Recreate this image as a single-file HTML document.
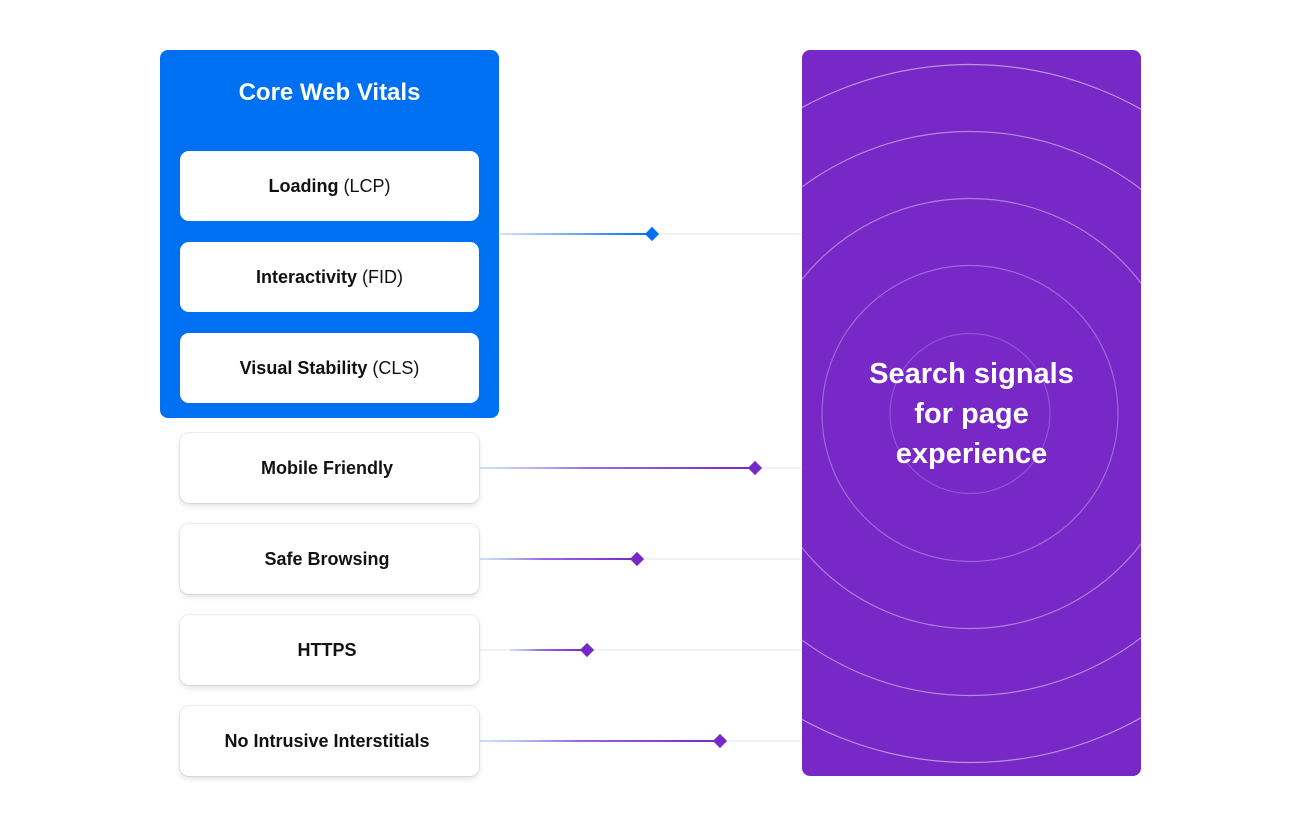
<!DOCTYPE html>
<html><head><meta charset="utf-8"><style>
body{margin:0;width:1300px;height:827px;background:#fff;position:relative;overflow:hidden;font-family:"Liberation Sans",sans-serif}
.abs{position:absolute}
.blue{left:160px;top:50px;width:339px;height:368px;background:#0070f3;border-radius:8px}
.title{left:160px;top:78px;width:339px;text-align:center;color:#fff;font-size:24px;line-height:30px;font-weight:bold}
.box{position:absolute;left:180px;width:299px;height:70px;background:#fff;border-radius:9px;display:flex;align-items:center;justify-content:center;font-size:18px;color:#111}
.box b{font-weight:bold;margin-right:5px}
.sh{box-shadow:0 3px 6px rgba(0,0,0,0.12),0 0 0 1px #eeeef4}
.purple{left:802px;top:50px;width:339px;height:726px;background:#7728c6;border-radius:8px;overflow:hidden}
.big{left:802px;top:354px;width:339px;text-align:center;color:#fff;font-size:29px;font-weight:bold;line-height:40px}
</style></head><body>
<svg class="abs" style="left:0;top:0" width="1300" height="827">
<defs>
<linearGradient id="gb" x1="0" x2="1"><stop offset="0" stop-color="#0070f3" stop-opacity="0.1"/><stop offset="1" stop-color="#0070f3"/></linearGradient>
<linearGradient id="gp" x1="0" x2="1"><stop offset="0" stop-color="#8ab8f8" stop-opacity="0.3"/><stop offset="0.4" stop-color="#9a6ae0"/><stop offset="1" stop-color="#7728c6"/></linearGradient>
</defs>
<g stroke="#eceef3" stroke-width="1.5">
<line x1="499" y1="234" x2="802" y2="234"/><line x1="479" y1="468" x2="802" y2="468"/>
<line x1="479" y1="559" x2="802" y2="559"/><line x1="479" y1="650" x2="802" y2="650"/>
<line x1="479" y1="741" x2="802" y2="741"/></g>
<rect x="500" y="233" width="150" height="2" fill="url(#gb)"/>
<rect x="480" y="467" width="273" height="2" fill="url(#gp)"/>
<rect x="480" y="558" width="155" height="2" fill="url(#gp)"/>
<rect x="510" y="649" width="75" height="2" fill="url(#gp)"/>
<rect x="480" y="740" width="238" height="2" fill="url(#gp)"/>
<rect x="647" y="229" width="10" height="10" fill="#0070f3" transform="rotate(45 652 234)"/>
<rect x="750" y="463" width="10" height="10" fill="#7728c6" transform="rotate(45 755 468)"/>
<rect x="632" y="554" width="10" height="10" fill="#7728c6" transform="rotate(45 637 559)"/>
<rect x="582" y="645" width="10" height="10" fill="#7728c6" transform="rotate(45 587 650)"/>
<rect x="715" y="736" width="10" height="10" fill="#7728c6" transform="rotate(45 720 741)"/>
</svg>
<div class="abs blue"></div>
<div class="abs title">Core Web Vitals</div>
<div class="box" style="top:151px"><b>Loading</b>(LCP)</div>
<div class="box" style="top:242px"><b>Interactivity</b>(FID)</div>
<div class="box" style="top:333px"><b>Visual Stability</b>(CLS)</div>
<div class="box sh" style="top:433px"><b>Mobile Friendly</b></div>
<div class="box sh" style="top:524px"><b>Safe Browsing</b></div>
<div class="box sh" style="top:615px"><b>HTTPS</b></div>
<div class="box sh" style="top:706px"><b>No Intrusive Interstitials</b></div>
<div class="abs purple">
<svg width="339" height="726" style="position:absolute;left:0;top:0" fill="none">
<circle cx="168" cy="363.5" r="80" stroke="rgba(255,255,255,0.2)" stroke-width="1.2"/>
<circle cx="168" cy="363.5" r="148" stroke="rgba(255,255,255,0.3)" stroke-width="1.2"/>
<circle cx="168" cy="363.5" r="215" stroke="rgba(255,255,255,0.4)" stroke-width="1.2"/>
<circle cx="168" cy="363.5" r="282" stroke="rgba(255,255,255,0.45)" stroke-width="1.2"/>
<circle cx="168" cy="363.5" r="349" stroke="rgba(255,255,255,0.5)" stroke-width="1.2"/>
</svg></div>
<div class="abs big">Search signals<br>for page<br>experience</div>
</body></html>
